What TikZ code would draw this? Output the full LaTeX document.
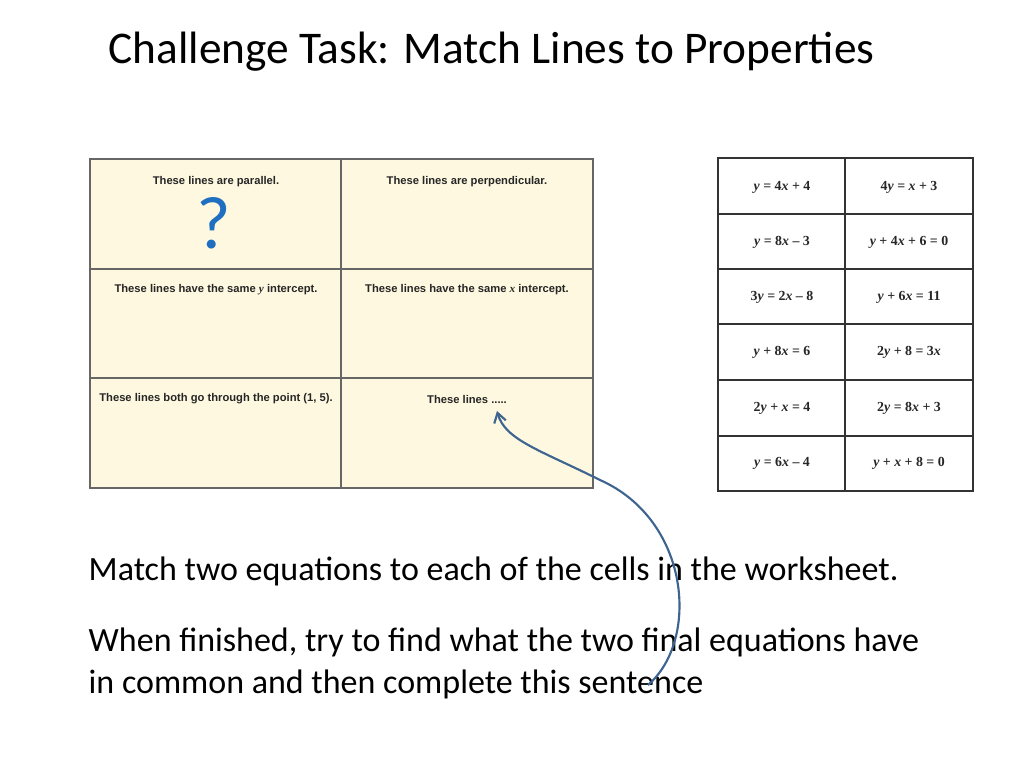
\documentclass[tikz,border=0pt]{standalone}
\usepackage{fontspec}
\usetikzlibrary{arrows.meta}
\setmainfont{Carlito}
\newfontfamily\cellfont{Liberation Sans}
\newfontfamily\eqfont{Liberation Serif}
\newcommand{\vv}[1]{\textit{#1}}
\definecolor{cellbg}{HTML}{FDF8DF}
\definecolor{qblue}{HTML}{1F6FC0}
\definecolor{arr}{HTML}{3E6490}
\begin{document}
\begin{tikzpicture}[x=0.75pt,y=-0.75pt,
  prop/.style={font=\cellfont\bfseries\fontsize{8.4}{10}\selectfont,anchor=center,text=black!85},
  eq/.style={font=\eqfont\bfseries\fontsize{10.4}{12}\selectfont,anchor=center,text=black!85},
  body/.style={font=\fontsize{25.5}{30}\selectfont,anchor=west}]
\useasboundingbox (0,0) rectangle (1024,768);
% title
\node[anchor=west,font=\fontsize{34}{40}\selectfont] (title) at (104,52) {Challenge Task: Match Lines to Properties};
% left worksheet
\fill[cellbg] (90,159) rectangle (593,488);
\draw[black!60,line width=0.8pt] (90,159) rectangle (593,488);
\draw[black!60,line width=0.8pt] (341,159) -- (341,488) (90,269) -- (593,269) (90,378) -- (593,378);
\node[prop] (p1) at (216,182) {These lines are parallel.};
\node[prop] (p2) at (467,182) {These lines are perpendicular.};
\node[prop] (p3) at (216,290) {These lines have the same {\eqfont\itshape y} intercept.};
\node[prop] (p4) at (467,290) {These lines have the same {\eqfont\itshape x} intercept.};
\node[prop] (p5) at (216,399) {These lines both go through the point (1, 5).};
\node[prop] (p6) at (467,399) {These lines .....};
\node[font=\fontsize{56}{60}\selectfont,text=qblue] (q) at (214,223) {?};
% right cards
\draw[black!80,line width=1.6pt] (718,158) rectangle (973,491);
\draw[black!80,line width=1.6pt] (845,158) -- (845,491);
\foreach \yy in {214,269,324,380,436} \draw[black!80,line width=1.4pt] (718,\yy) -- (973,\yy);
\node[eq] (e1) at (782,187) {\vv{y} = 4\vv{x} + 4};
\node[eq] (e2) at (909,187) {4\vv{y} = \vv{x} + 3};
\node[eq] (e3) at (782,242) {\vv{y} = 8\vv{x} – 3};
\node[eq] (e4) at (909,242) {\vv{y} + 4\vv{x} + 6 = 0};
\node[eq] (e5) at (782,297) {3\vv{y} = 2\vv{x} – 8};
\node[eq] (e6) at (909,297) {\vv{y} + 6\vv{x} = 11};
\node[eq] (e7) at (782,352) {\vv{y} + 8\vv{x} = 6};
\node[eq] (e8) at (909,352) {2\vv{y} + 8 = 3\vv{x}};
\node[eq] (e9) at (782,408) {2\vv{y} + \vv{x} = 4};
\node[eq] (e10) at (909,408) {2\vv{y} = 8\vv{x} + 3};
\node[eq] (e11) at (782,463) {\vv{y} = 6\vv{x} – 4};
\node[eq] (e12) at (909,463) {\vv{y} + \vv{x} + 8 = 0};
% body text
\node[body] (t1) at (84,571) {Match two equations to each of the cells in the worksheet.};
\node[body] (t2) at (84,642) {When finished, try to find what the two final equations have};
\node[body] (t3) at (84,684) {in common and then complete this sentence};
% arrow
\coordinate (s) at (648,685);
\coordinate (tip) at (497,411);
\draw[arr,line width=1.6pt,-{Straight Barb[length=7pt,width=9pt]}] (s) .. controls (700,640) and (690,520) .. (600,480) .. controls (540,450) and (505,440) .. (tip);
\end{tikzpicture}
\end{document}
